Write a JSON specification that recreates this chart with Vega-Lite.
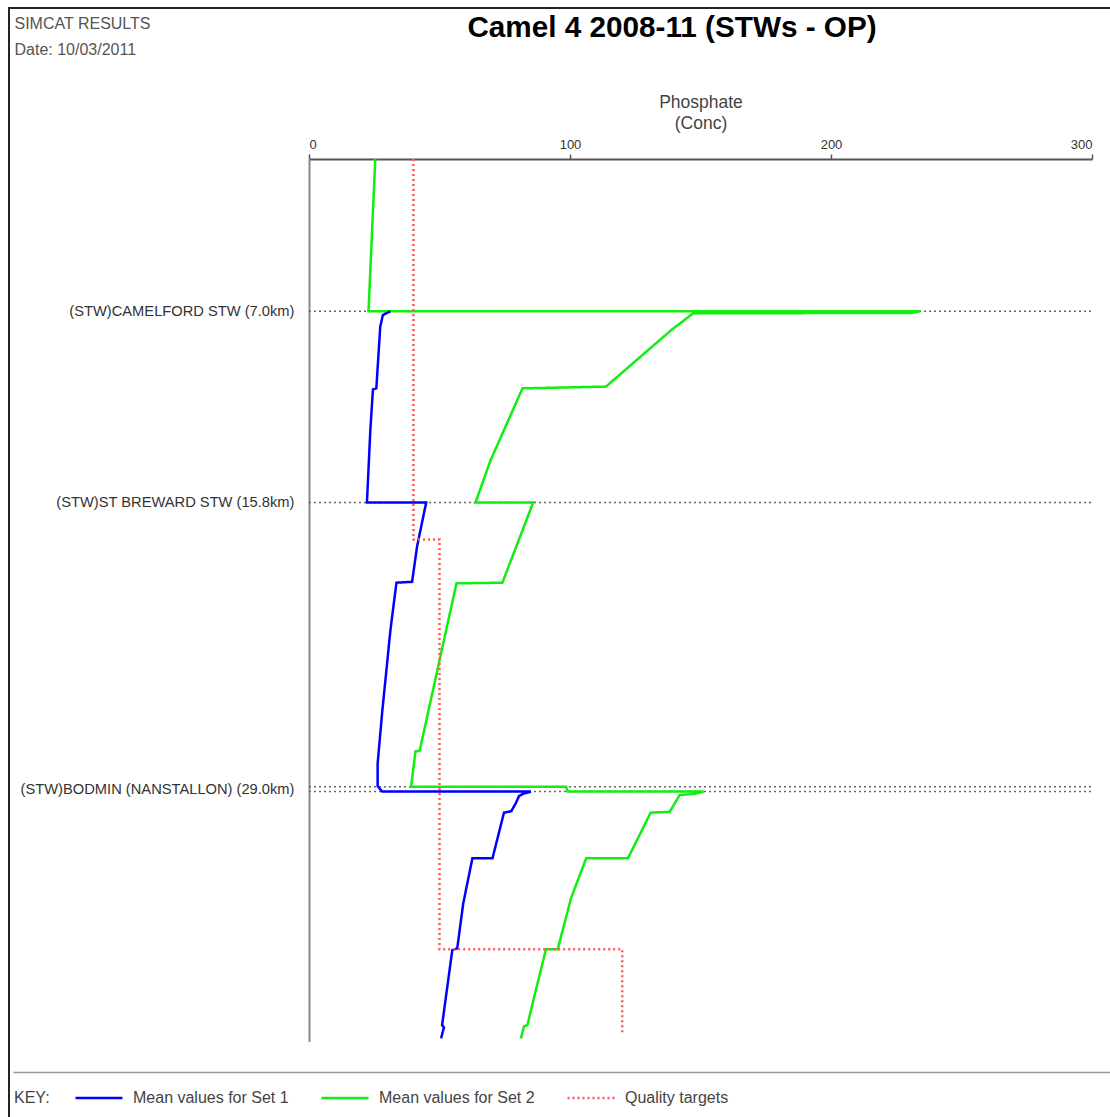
{
  "$schema": "https://vega.github.io/schema/vega-lite/v6.json",
  "autosize": {"type": "none"},
  "padding": {"left": 9, "top": 8, "right": 0, "bottom": 0},
  "width": 1104,
  "height": 1112,
  "background": "white",
  "config": {
    "font": "Liberation Sans",
    "view": {"stroke": "#222", "strokeWidth": 2, "fill": "white"}
  },
  "title": {
    "text": "Camel 4 2008-11 (STWs - OP)",
    "anchor": "middle",
    "frame": "group",
    "dx": 111,
    "offset": -36,
    "fontSize": 29.7,
    "fontWeight": "bold",
    "color": "#000"
  },
  "datasets": {
    "profiles": [
      {"s": "Mean values for Set 2", "i": 1, "c": 25.4, "km": 0},
      {"s": "Mean values for Set 2", "i": 2, "c": 22.8, "km": 7.0},
      {"s": "Mean values for Set 2", "i": 3, "c": 234.2, "km": 7.0},
      {"s": "Mean values for Set 2", "i": 4, "c": 231.0, "km": 7.08},
      {"s": "Mean values for Set 2", "i": 5, "c": 147.2, "km": 7.1},
      {"s": "Mean values for Set 2", "i": 6, "c": 138.8, "km": 7.87},
      {"s": "Mean values for Set 2", "i": 7, "c": 113.8, "km": 10.47},
      {"s": "Mean values for Set 2", "i": 8, "c": 94.0, "km": 10.52},
      {"s": "Mean values for Set 2", "i": 9, "c": 81.8, "km": 10.55},
      {"s": "Mean values for Set 2", "i": 10, "c": 69.6, "km": 13.85},
      {"s": "Mean values for Set 2", "i": 11, "c": 63.8, "km": 15.8},
      {"s": "Mean values for Set 2", "i": 12, "c": 85.9, "km": 15.8},
      {"s": "Mean values for Set 2", "i": 13, "c": 74.1, "km": 19.49},
      {"s": "Mean values for Set 2", "i": 14, "c": 56.5, "km": 19.52},
      {"s": "Mean values for Set 2", "i": 15, "c": 42.4, "km": 27.22},
      {"s": "Mean values for Set 2", "i": 16, "c": 40.8, "km": 27.25},
      {"s": "Mean values for Set 2", "i": 17, "c": 39.1, "km": 28.88},
      {"s": "Mean values for Set 2", "i": 18, "c": 98.5, "km": 28.88},
      {"s": "Mean values for Set 2", "i": 19, "c": 99.1, "km": 29.1},
      {"s": "Mean values for Set 2", "i": 20, "c": 151.2, "km": 29.1},
      {"s": "Mean values for Set 2", "i": 21, "c": 148.0, "km": 29.2},
      {"s": "Mean values for Set 2", "i": 22, "c": 142.0, "km": 29.26},
      {"s": "Mean values for Set 2", "i": 23, "c": 138.2, "km": 30.03},
      {"s": "Mean values for Set 2", "i": 24, "c": 130.9, "km": 30.07},
      {"s": "Mean values for Set 2", "i": 25, "c": 122.2, "km": 32.17},
      {"s": "Mean values for Set 2", "i": 26, "c": 106.2, "km": 32.17},
      {"s": "Mean values for Set 2", "i": 27, "c": 100.4, "km": 34.0},
      {"s": "Mean values for Set 2", "i": 28, "c": 95.3, "km": 36.35},
      {"s": "Mean values for Set 2", "i": 29, "c": 90.8, "km": 36.35},
      {"s": "Mean values for Set 2", "i": 30, "c": 86.3, "km": 38.53},
      {"s": "Mean values for Set 2", "i": 31, "c": 83.7, "km": 39.84},
      {"s": "Mean values for Set 2", "i": 32, "c": 82.4, "km": 39.9},
      {"s": "Mean values for Set 2", "i": 33, "c": 81.2, "km": 40.45},
      {"s": "Mean values for Set 1", "i": 1, "c": 31.2, "km": 7.0},
      {"s": "Mean values for Set 1", "i": 2, "c": 28.3, "km": 7.18},
      {"s": "Mean values for Set 1", "i": 3, "c": 27.3, "km": 7.71},
      {"s": "Mean values for Set 1", "i": 4, "c": 25.8, "km": 10.55},
      {"s": "Mean values for Set 1", "i": 5, "c": 24.5, "km": 10.6},
      {"s": "Mean values for Set 1", "i": 6, "c": 23.5, "km": 12.47},
      {"s": "Mean values for Set 1", "i": 7, "c": 22.2, "km": 15.8},
      {"s": "Mean values for Set 1", "i": 8, "c": 44.9, "km": 15.8},
      {"s": "Mean values for Set 1", "i": 9, "c": 41.4, "km": 17.83},
      {"s": "Mean values for Set 1", "i": 10, "c": 39.5, "km": 19.45},
      {"s": "Mean values for Set 1", "i": 11, "c": 33.5, "km": 19.49},
      {"s": "Mean values for Set 1", "i": 12, "c": 31.2, "km": 21.67},
      {"s": "Mean values for Set 1", "i": 13, "c": 28.0, "km": 25.5},
      {"s": "Mean values for Set 1", "i": 14, "c": 26.3, "km": 27.8},
      {"s": "Mean values for Set 1", "i": 15, "c": 26.3, "km": 28.84},
      {"s": "Mean values for Set 1", "i": 16, "c": 28.0, "km": 29.1},
      {"s": "Mean values for Set 1", "i": 17, "c": 85.0, "km": 29.1},
      {"s": "Mean values for Set 1", "i": 18, "c": 82.0, "km": 29.2},
      {"s": "Mean values for Set 1", "i": 19, "c": 80.5, "km": 29.3},
      {"s": "Mean values for Set 1", "i": 20, "c": 79.2, "km": 29.64},
      {"s": "Mean values for Set 1", "i": 21, "c": 77.5, "km": 30.0},
      {"s": "Mean values for Set 1", "i": 22, "c": 74.7, "km": 30.07},
      {"s": "Mean values for Set 1", "i": 23, "c": 70.3, "km": 32.17},
      {"s": "Mean values for Set 1", "i": 24, "c": 62.6, "km": 32.17},
      {"s": "Mean values for Set 1", "i": 25, "c": 59.1, "km": 34.24},
      {"s": "Mean values for Set 1", "i": 26, "c": 56.8, "km": 36.31},
      {"s": "Mean values for Set 1", "i": 27, "c": 54.9, "km": 36.39},
      {"s": "Mean values for Set 1", "i": 28, "c": 52.3, "km": 38.69},
      {"s": "Mean values for Set 1", "i": 29, "c": 51.0, "km": 39.84},
      {"s": "Mean values for Set 1", "i": 30, "c": 51.7, "km": 39.95},
      {"s": "Mean values for Set 1", "i": 31, "c": 50.6, "km": 40.45},
      {"s": "Quality targets", "i": 1, "c": 40, "km": 0},
      {"s": "Quality targets", "i": 2, "c": 40, "km": 17.5},
      {"s": "Quality targets", "i": 3, "c": 50, "km": 17.5},
      {"s": "Quality targets", "i": 4, "c": 50, "km": 36.35},
      {"s": "Quality targets", "i": 5, "c": 120, "km": 36.35},
      {"s": "Quality targets", "i": 6, "c": 120, "km": 40.3}
    ],
    "features": [
      {"feature": "(STW)CAMELFORD STW", "km": 7.0},
      {"feature": "(STW)ST BREWARD STW", "km": 15.8},
      {"feature": "Bodmin upstream", "km": 28.88},
      {"feature": "(STW)BODMIN (NANSTALLON)", "km": 29.1}
    ]
  },
  "resolve": {"scale": {"x": "independent"}, "axis": {"x": "independent"}},
  "layer": [
    {
      "data": {"name": "features"},
      "mark": {"type": "rule", "color": "#666", "strokeWidth": 1.5, "strokeDash": [2, 3]},
      "encoding": {
        "x": {
          "datum": 0,
          "type": "quantitative",
          "scale": {"domain": [-113.41, 308.05], "range": [4, 1104], "nice": false, "zero": false},
          "axis": {"orient": "bottom", "offset": -48, "labels": false, "ticks": false, "grid": false, "title": null, "domainColor": "#999", "domainWidth": 1.5}
        },
        "x2": {"datum": 300},
        "y": {"field": "km", "type": "quantitative"}
      }
    },
    {
      "data": {"name": "profiles"},
      "mark": {"type": "line", "strokeWidth": 2.5, "strokeJoin": "miter", "clip": false},
      "encoding": {
        "x": {
          "field": "c",
          "type": "quantitative",
          "scale": {"domain": [0, 300], "range": [300, 1083], "nice": false, "zero": true},
          "axis": {
            "orient": "top",
            "offset": -151,
            "values": [0, 100, 200, 300],
            "grid": false,
            "domainColor": "#555",
            "domainWidth": 2,
            "tickColor": "#555",
            "tickWidth": 1.5,
            "tickSize": 5,
            "labelFontSize": 13,
            "labelColor": "#333",
            "labelPadding": 3,
            "title": ["Phosphate", "(Conc)"],
            "titleFontSize": 17.5,
            "titleFontWeight": "normal",
            "titleColor": "#444",
            "titlePadding": 6,
            "titleLineHeight": 21
          }
        },
        "y": {
          "field": "km",
          "type": "quantitative",
          "scale": {"domain": [0, 40.6], "range": [151, 1033.6], "nice": false, "zero": false},
          "axis": {
            "orient": "left",
            "offset": -300,
            "values": [7, 15.8, 29],
            "labelExpr": "datum.value == 7 ? '(STW)CAMELFORD STW (7.0km)' : datum.value == 15.8 ? '(STW)ST BREWARD STW (15.8km)' : '(STW)BODMIN (NANSTALLON) (29.0km)'",
            "labelLimit": 0,
            "grid": false,
            "ticks": false,
            "labelPadding": 15,
            "labelFontSize": 14.7,
            "labelColor": "#333",
            "domainColor": "#888",
            "domainWidth": 2,
            "title": ["SIMCAT RESULTS", "Date: 10/03/2011"],
            "titleAngle": 0,
            "titleAlign": "left",
            "titleBaseline": "top",
            "titleX": -295,
            "titleY": 7,
            "titleFontSize": 16,
            "titleFontWeight": "normal",
            "titleColor": "#555",
            "titleLineHeight": 26
          }
        },
        "order": {"field": "i", "type": "quantitative"},
        "color": {
          "field": "s",
          "type": "nominal",
          "scale": {
            "domain": ["Mean values for Set 1", "Mean values for Set 2", "Quality targets"],
            "range": ["#0000ff", "#11ee11", "#ff5a5a"]
          },
          "legend": {
            "title": "KEY:",
            "orient": "none",
            "legendX": 5,
            "legendY": 1065,
            "direction": "horizontal",
            "titleOrient": "left",
            "titleAnchor": "middle",
            "titleBaseline": "top",
            "titleFontSize": 16,
            "titleFontWeight": "normal",
            "titleColor": "#444",
            "titlePadding": 24,
            "labelFontSize": 16,
            "labelColor": "#444",
            "labelOffset": 9,
            "columnPadding": 27,
            "symbolType": "stroke",
            "symbolSize": 2209,
            "symbolStrokeWidth": 2.5,
            "padding": 0
          }
        },
        "strokeDash": {
          "field": "s",
          "type": "nominal",
          "scale": {
            "domain": ["Mean values for Set 1", "Mean values for Set 2", "Quality targets"],
            "range": [[1, 0], [1, 0], [2, 3]]
          },
          "legend": {"title": "KEY:"}
        }
      }
    }
  ]
}
